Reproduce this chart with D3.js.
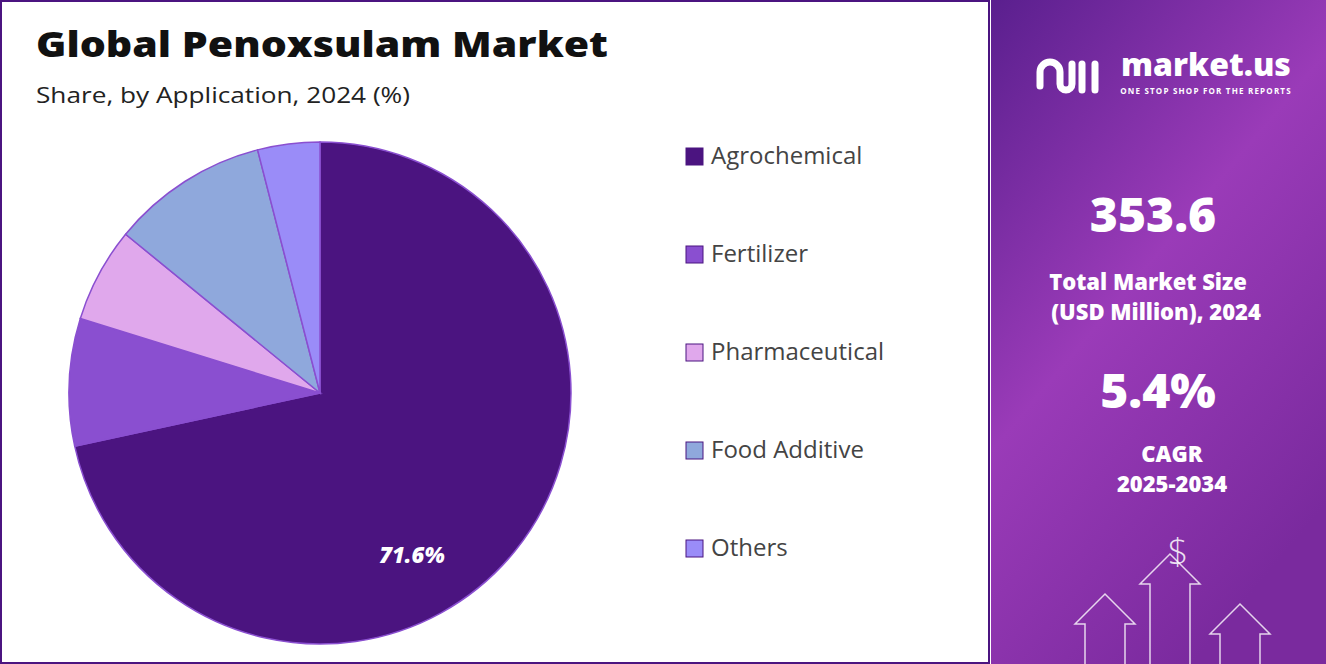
<!DOCTYPE html>
<html><head><meta charset="utf-8">
<script src="https://cdn.jsdelivr.net/npm/d3@7"></script>
<style>body{margin:0;overflow:hidden;background:#fff}</style>
</head><body><div id="chart"></div>
<script>
var w = 1326, h = 664;
var categories = ["Agrochemical", "Fertilizer", "Pharmaceutical", "Food Additive", "Others"];
var values = [71.6, 8.2, 6.1, 10.1, 4.0];
var colors = ["#4b1480", "#8a4fd0", "#e0a8ec", "#8fa8dc", "#9a8cf8"];
var ff = "'Open Sans', sans-serif";

var svg = d3.select("#chart").append("svg").attr("width", w).attr("height", h);
var defs = svg.append("defs");
var g1 = defs.append("linearGradient").attr("id", "bg").attr("x1", 0).attr("y1", 0).attr("x2", 0.6).attr("y2", 1);
g1.append("stop").attr("offset", "0%").attr("stop-color", "#5a1f8e");
g1.append("stop").attr("offset", "50%").attr("stop-color", "#9a3bb8");
g1.append("stop").attr("offset", "100%").attr("stop-color", "#7a2a9e");

svg.append("rect").attr("x", 1).attr("y", 1).attr("width", 988).attr("height", h - 2)
  .attr("fill", "#fff").attr("stroke", "#4b1480").attr("stroke-width", 2);
svg.append("rect").attr("x", 991).attr("y", 0).attr("width", w - 991).attr("height", h).attr("fill", "url(#bg)");

svg.append("text").text("Global Penoxsulam Market").attr("x", 36).attr("y", 57)
  .attr("font-family", ff).attr("font-weight", 800).attr("font-size", "36px").attr("fill", "#111")
  .attr("textLength", 572).attr("lengthAdjust", "spacingAndGlyphs");
svg.append("text").text("Share, by Application, 2024 (%)").attr("x", 36).attr("y", 103)
  .attr("font-family", ff).attr("font-size", "22px").attr("fill", "#222")
  .attr("textLength", 374).attr("lengthAdjust", "spacingAndGlyphs");

var pie = d3.pie().sort(null).value(function (d) { return d; });
var arc = d3.arc().innerRadius(0).outerRadius(251);
var pg = svg.append("g").attr("transform", "translate(320,393)");
pg.selectAll("path").data(pie(values)).enter().append("path")
  .attr("d", arc).attr("fill", function (d, i) { return colors[i]; })
  .attr("stroke", "#8a4fd0").attr("stroke-width", 1.5);
pg.append("text").text(values[0] + "%")
  .attr("x", 92).attr("y", 170)
  .attr("text-anchor", "middle").attr("font-family", ff).attr("font-style", "italic")
  .attr("font-weight", 800).attr("font-size", "22px").attr("fill", "#fff");

var lg = svg.selectAll(".lg").data(categories).enter().append("g")
  .attr("transform", function (d, i) { return "translate(686," + (148 + i * 98) + ")"; });
lg.append("rect").attr("width", 17).attr("height", 17)
  .attr("fill", function (d, i) { return colors[i]; }).attr("stroke", "#4b1480").attr("stroke-width", 1);
lg.append("text").text(function (d) { return d; }).attr("x", 25).attr("y", 16)
  .attr("font-family", ff).attr("font-size", "24px").attr("fill", "#444");

var rt = svg.append("g").attr("font-family", ff).attr("fill", "#fff").attr("text-anchor", "middle");
rt.append("text").text("market.us").attr("x", 1206).attr("y", 76).attr("font-size", "32px").attr("font-weight", 800);
rt.append("text").text("ONE STOP SHOP FOR THE REPORTS").attr("x", 1206).attr("y", 94).attr("font-size", "8px").attr("font-weight", 700).attr("letter-spacing", "1.2px");
rt.append("path").attr("d", "M1040,86 v-14 a10,10 0 0 1 20,0 v12 a6,6 0 0 0 12,0 v-20 M1082,64 v26 M1095,64 v26")
  .attr("fill", "none").attr("stroke", "#fff").attr("stroke-width", 7).attr("stroke-linecap", "round");
rt.append("text").text("353.6").attr("x", 1153).attr("y", 232).attr("font-size", "48px").attr("font-weight", 800);
rt.append("text").text("Total Market Size").attr("x", 1148).attr("y", 290).attr("font-size", "22px").attr("font-weight", 800);
rt.append("text").text("(USD Million), 2024").attr("x", 1156).attr("y", 320).attr("font-size", "22px").attr("font-weight", 800);
rt.append("text").text("5.4%").attr("x", 1158).attr("y", 408).attr("font-size", "48px").attr("font-weight", 800);
rt.append("text").text("CAGR").attr("x", 1172).attr("y", 462).attr("font-size", "22px").attr("font-weight", 800);
rt.append("text").text("2025-2034").attr("x", 1172).attr("y", 492).attr("font-size", "22px").attr("font-weight", 800);
rt.append("text").text("$").attr("x", 1178).attr("y", 565).attr("font-size", "36px").attr("font-weight", 300).attr("fill-opacity", 0.85);
svg.append("path").attr("d", "M1085,664 v-40 h-10 l30,-30 l30,30 h-10 v40 M1150,664 v-80 h-10 l30,-30 l30,30 h-10 v80 M1220,664 v-30 h-10 l30,-30 l30,30 h-10 v30")
  .attr("fill", "none").attr("stroke", "#fff").attr("stroke-opacity", 0.8).attr("stroke-width", 1.5);
</script></body></html>
